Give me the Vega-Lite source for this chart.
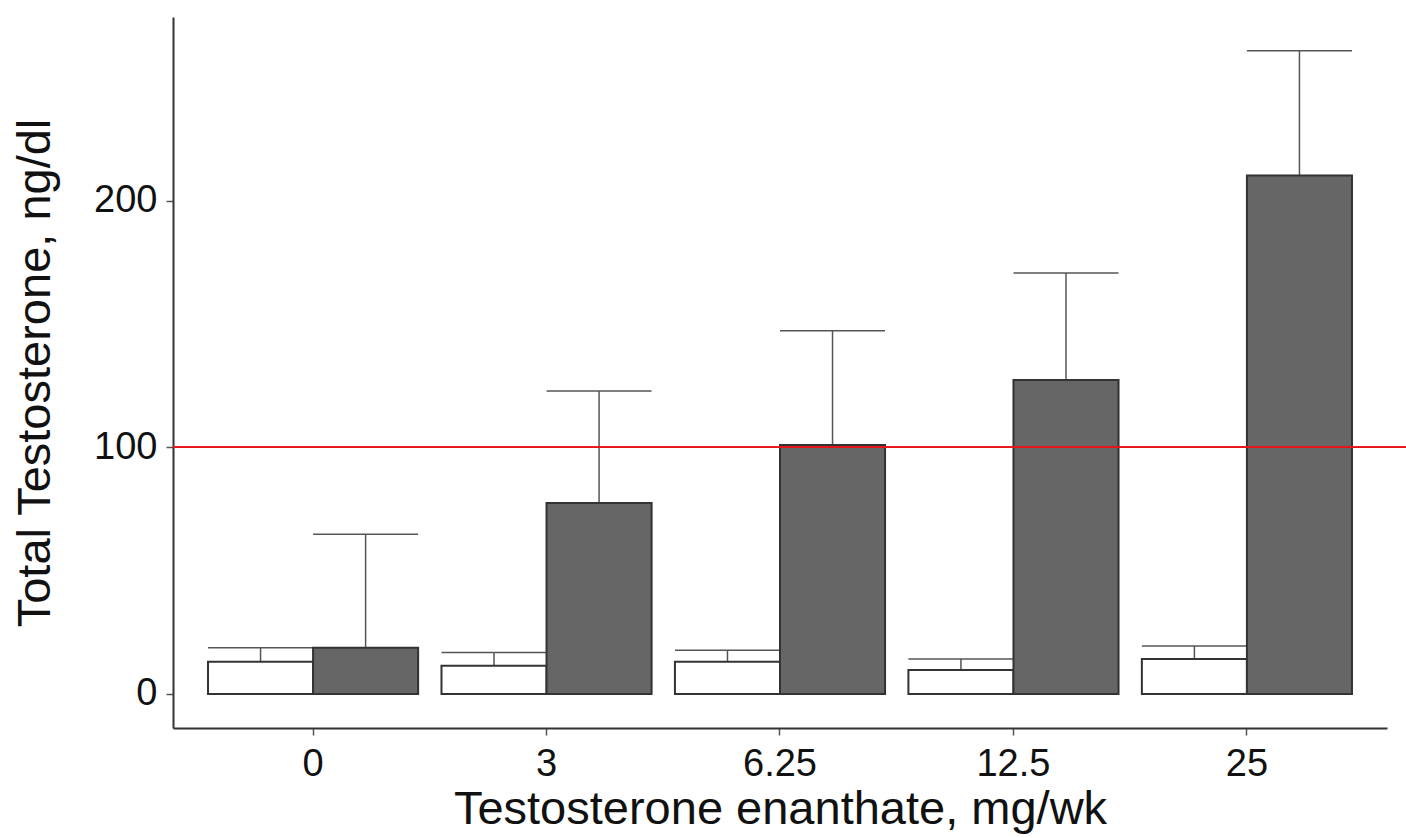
{
  "$schema": "https://vega.github.io/schema/vega-lite/v6.json",
  "autosize": "none",
  "padding": {"left": 173, "top": 17, "right": 0, "bottom": 110},
  "width": 1233,
  "height": 711,
  "background": "white",
  "config": {
    "view": {"stroke": null},
    "font": "Liberation Sans",
    "axis": {
      "grid": false,
      "domainColor": "#333333",
      "domainWidth": 2,
      "tickColor": "#555555",
      "tickWidth": 1.5,
      "tickSize": 7,
      "labelColor": "#111111",
      "titleColor": "#111111",
      "labelFont": "Liberation Sans",
      "titleFont": "Liberation Sans",
      "labelFontSize": 38,
      "titleFontSize": 47,
      "titleFontWeight": "normal"
    }
  },
  "data": {
    "values": [
      {"dose": "0", "group": "baseline", "value": 13.1, "upper": 18.8},
      {"dose": "0", "group": "treatment", "value": 18.8, "upper": 64.8},
      {"dose": "3", "group": "baseline", "value": 11.5, "upper": 16.8},
      {"dose": "3", "group": "treatment", "value": 77.5, "upper": 122.9},
      {"dose": "6.25", "group": "baseline", "value": 13.1, "upper": 17.7},
      {"dose": "6.25", "group": "treatment", "value": 101.0, "upper": 147.3},
      {"dose": "12.5", "group": "baseline", "value": 9.7, "upper": 14.2},
      {"dose": "12.5", "group": "treatment", "value": 127.4, "upper": 170.8},
      {"dose": "25", "group": "baseline", "value": 14.2, "upper": 19.5},
      {"dose": "25", "group": "treatment", "value": 210.3, "upper": 260.9}
    ]
  },
  "layer": [
    {
      "mark": {"type": "rule", "stroke": "#555555", "strokeWidth": 1.5},
      "encoding": {
        "x": {
          "field": "dose",
          "type": "nominal",
          "sort": ["0", "3", "6.25", "12.5", "25"],
          "scale": {"paddingInner": 0.1, "paddingOuter": 0.15, "range": [0, 1214]},
          "axis": {"labelAngle": 0, "labelPadding": 10, "titlePadding": 3, "title": "Testosterone enanthate, mg/wk"}
        },
        "xOffset": {
          "field": "group",
          "type": "nominal",
          "sort": ["baseline", "treatment"],
          "scale": {"paddingInner": 0, "paddingOuter": 0}
        },
        "y": {
          "field": "value",
          "type": "quantitative",
          "scale": {"domain": [-13.8, 274.6], "nice": false, "zero": false},
          "axis": {"values": [0, 100, 200], "labelPadding": 9, "titlePadding": 34, "title": "Total Testosterone, ng/dl"}
        },
        "y2": {"field": "upper"}
      }
    },
    {
      "mark": {"type": "tick", "orient": "horizontal", "color": "#555555", "thickness": 1.5, "size": 105, "opacity": 1},
      "encoding": {
        "x": {"field": "dose", "type": "nominal", "sort": ["0", "3", "6.25", "12.5", "25"]},
        "xOffset": {"field": "group", "type": "nominal", "sort": ["baseline", "treatment"]},
        "y": {"field": "upper", "type": "quantitative"}
      }
    },
    {
      "mark": {"type": "bar", "stroke": "#333333", "strokeWidth": 2},
      "encoding": {
        "x": {"field": "dose", "type": "nominal", "sort": ["0", "3", "6.25", "12.5", "25"]},
        "xOffset": {"field": "group", "type": "nominal", "sort": ["baseline", "treatment"]},
        "y": {"field": "value", "type": "quantitative"},
        "y2": {"datum": 0},
        "fill": {
          "field": "group",
          "type": "nominal",
          "scale": {"domain": ["baseline", "treatment"], "range": ["#ffffff", "#666666"]},
          "legend": null
        }
      }
    },
    {
      "mark": {"type": "rule", "stroke": "#e8141c", "strokeWidth": 1.2},
      "encoding": {
        "y": {"datum": 100}
      }
    }
  ]
}
